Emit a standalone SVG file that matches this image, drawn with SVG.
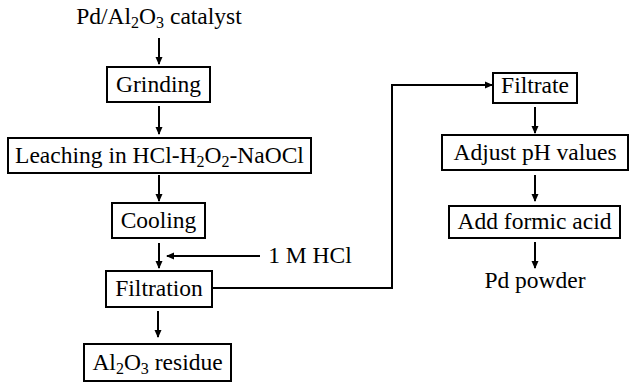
<svg xmlns="http://www.w3.org/2000/svg" width="629" height="383" viewBox="0 0 629 383">
<defs>
<marker id="ah" markerWidth="8" markerHeight="8" refX="7" refY="4" orient="auto" markerUnits="userSpaceOnUse">
<path d="M0,0.5 L8,4 L0,7.5 Z" fill="#000"/>
</marker>
</defs>
<style>
.box{fill:#fff;stroke:#000;stroke-width:2}
text{font-family:"Liberation Serif","Times New Roman",serif;font-size:23.5px;fill:#000;text-anchor:middle}
.s{font-size:16px}
.c{stroke:#000;stroke-width:2;fill:none}
</style>
<rect width="629" height="383" fill="#fff"/>
<g id="connectors">
<line class="c" x1="159" y1="38" x2="159" y2="64" marker-end="url(#ah)"/>
<line class="c" x1="159" y1="106" x2="159" y2="134" marker-end="url(#ah)"/>
<line class="c" x1="159" y1="175" x2="159" y2="201" marker-end="url(#ah)"/>
<line class="c" x1="159" y1="243" x2="159" y2="268" marker-end="url(#ah)"/>
<line class="c" x1="260" y1="256" x2="167" y2="256" marker-end="url(#ah)"/>
<line class="c" x1="158" y1="311" x2="158" y2="337" marker-end="url(#ah)"/>
<polyline class="c" points="212,288 392,288 392,85 492,85" marker-end="url(#ah)"/>
<line class="c" x1="535" y1="107" x2="535" y2="133" marker-end="url(#ah)"/>
<line class="c" x1="535" y1="175" x2="535" y2="201" marker-end="url(#ah)"/>
<line class="c" x1="535" y1="242" x2="535" y2="268" marker-end="url(#ah)"/>
</g>
<g id="start"><text x="159" y="24">Pd/Al<tspan class="s" dy="4">2</tspan><tspan dy="-4">O</tspan><tspan class="s" dy="4">3</tspan><tspan dy="-4"> catalyst</tspan></text></g>
<g id="grinding"><rect class="box" x="107" y="67" width="103" height="35"/><text x="158.5" y="92">Grinding</text></g>
<g id="leaching"><rect class="box" x="8" y="138" width="303" height="35"/><text x="159.5" y="163">Leaching in HCl-H<tspan class="s" dy="4">2</tspan><tspan dy="-4">O</tspan><tspan class="s" dy="4">2</tspan><tspan dy="-4">-NaOCl</tspan></text></g>
<g id="cooling"><rect class="box" x="112" y="203" width="93" height="35"/><text x="158.5" y="228">Cooling</text></g>
<g id="hcl"><text x="310" y="263">1 M HCl</text></g>
<g id="filtration"><rect class="box" x="106" y="271" width="106" height="36"/><text x="159" y="296">Filtration</text></g>
<g id="residue"><rect class="box" x="84" y="344" width="147" height="37"/><text x="157.5" y="370">Al<tspan class="s" dy="4">2</tspan><tspan dy="-4">O</tspan><tspan class="s" dy="4">3</tspan><tspan dy="-4"> residue</tspan></text></g>
<g id="filtrate"><rect class="box" x="493" y="73" width="84" height="30"/><text x="535" y="93">Filtrate</text></g>
<g id="adjust"><rect class="box" x="442" y="135" width="186" height="35"/><text x="535" y="160">Adjust pH values</text></g>
<g id="formic"><rect class="box" x="449" y="206" width="171" height="32"/><text x="534.5" y="229">Add formic acid</text></g>
<g id="powder"><text x="535" y="288">Pd powder</text></g>
</svg>
